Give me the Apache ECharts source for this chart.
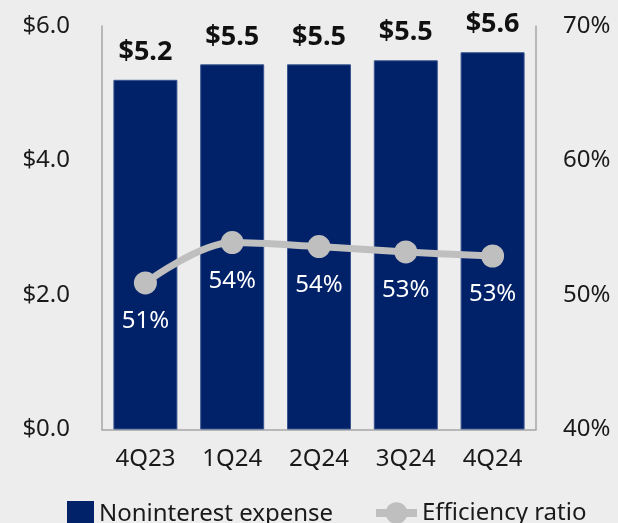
<!DOCTYPE html>
<html>
<head>
    <meta charset="utf-8">
    <title>Noninterest expense</title>
    <script src="https://cdn.jsdelivr.net/npm/echarts@6/dist/echarts.min.js"></script>
    <style>
        html, body { margin: 0; padding: 0; background: #ededed; }
        #chart { width: 618px; height: 523px; }
    </style>
</head>
<body>
	<div id="chart"></div>
	<script type="text/javascript">
		// 数据
		var quarters = ['4Q23', '1Q24', '2Q24', '3Q24', '4Q24'];
		var expense = [5.2, 5.43, 5.43, 5.49, 5.61];
		var expenseLabels = ['$5.2', '$5.5', '$5.5', '$5.5', '$5.6'];
		var ratio = [50.9, 53.9, 53.6, 53.2, 52.9];
		var ratioLabels = ['51%', '54%', '54%', '53%', '53%'];

		var font = 'Noto Sans';
		var axisColor = '#a6a6a6';

		var myChart = echarts.init(document.getElementById('chart'));
		var option = {
			backgroundColor: '#ededed',
			animation: false,
			textStyle: { fontFamily: font },
			grid: { left: 102, right: 82, top: 26, bottom: 93.5 },
			legend: [{
				left: 62, top: 496,
				data: [{ name: 'Noninterest expense', icon: 'rect', itemStyle: { borderWidth: 0 } }],
				itemWidth: 27, itemHeight: 27,
				itemGap: 14,
				textStyle: { fontSize: 24, color: '#1a1a1a', fontFamily: font }
			}, {
				left: 367, top: 496,
				data: [{ name: 'Efficiency ratio', lineStyle: { width: 8 } }],
				itemWidth: 41, itemHeight: 27,
				textStyle: { fontSize: 24, color: '#1a1a1a', fontFamily: font }
			}],
			xAxis: {
				type: 'category',
				data: quarters,
				axisLine: { lineStyle: { color: axisColor, width: 1.5 } },
				axisTick: { show: false },
				axisLabel: { fontSize: 24, color: '#1a1a1a', margin: 18 }
			},
			yAxis: [{
				type: 'value',
				min: 0, max: 6, interval: 2,
				axisLine: { show: true, lineStyle: { color: axisColor, width: 1.5 } },
				axisTick: { show: false },
				splitLine: { show: false },
				axisLabel: {
					fontSize: 24, color: '#1a1a1a', margin: 32,
					formatter: function (v) { return '$' + v.toFixed(1); }
				}
			}, {
				type: 'value',
				min: 40, max: 70, interval: 10,
				axisLine: { show: true, lineStyle: { color: axisColor, width: 1.5 } },
				axisTick: { show: false },
				splitLine: { show: false },
				axisLabel: {
					fontSize: 24, color: '#1a1a1a', margin: 27,
					formatter: function (v) { return v + '%'; }
				}
			}],
			series: [{
				name: 'Noninterest expense',
				type: 'bar',
				data: expense,
				barWidth: 64,
				itemStyle: { color: '#012169', borderColor: '#3a568f', borderWidth: 1 },
				label: {
					show: true, position: 'top', distance: 14,
					fontSize: 27, fontWeight: 'bold', color: '#111',
					formatter: function (p) { return expenseLabels[p.dataIndex]; }
				}
			}, {
				name: 'Efficiency ratio',
				type: 'line',
				yAxisIndex: 1,
				data: ratio,
				smooth: 0.35,
				symbol: 'circle',
				symbolSize: 23,
				lineStyle: { color: '#bfbfbf', width: 7 },
				itemStyle: { color: '#bfbfbf' },
				label: {
					show: true, position: 'bottom', distance: 15,
					fontSize: 24, color: '#ffffff',
					formatter: function (p) { return ratioLabels[p.dataIndex]; }
				}
			}]
		};
		myChart.setOption(option);
	</script>
</body>
</html>
